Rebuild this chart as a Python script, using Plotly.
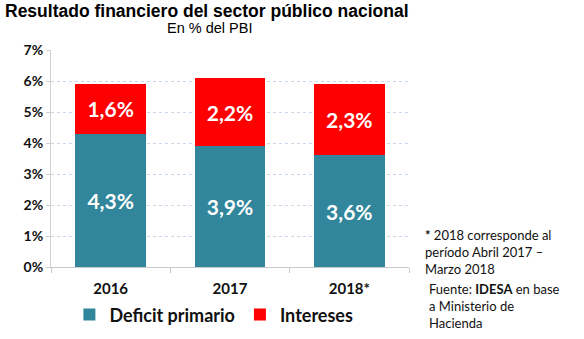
import plotly.graph_objects as go

years = ["2016", "2017", "2018*"]
deficit_primario = [4.3, 3.9, 3.6]
intereses = [1.6, 2.2, 2.3]
y_ticks = [0, 1, 2, 3, 4, 5, 6, 7]
y_tick_labels = ["0%", "1%", "2%", "3%", "4%", "5%", "6%", "7%"]

TEAL = "#31869B"
RED = "#FF0000"
FONT = "Lato, Carlito, Calibri, sans-serif"

fig = go.Figure()
fig.add_trace(go.Bar(
    x=years, y=deficit_primario, name="Deficit primario",
    marker=dict(color=TEAL, line=dict(width=0)),
    texttemplate="%{y:.1f}%", textposition="inside", insidetextanchor="middle",
    textfont=dict(color="white", size=21, family=FONT, weight="bold"),
))
fig.add_trace(go.Bar(
    x=years, y=intereses, name="Intereses",
    marker=dict(color=RED, line=dict(width=0)),
    texttemplate="%{y:.1f}%", textposition="inside", insidetextanchor="middle",
    textfont=dict(color="white", size=21, family=FONT, weight="bold"),
))

fig.update_layout(
    barmode="stack", bargap=0.41,
    separators=",.",
    width=584, height=339,
    margin=dict(l=51, r=175, t=50, b=72, autoexpand=False),
    paper_bgcolor="white", plot_bgcolor="white",
    showlegend=True,
    legend=dict(orientation="h", x=0.455, xanchor="center", y=-0.135, yanchor="top",
                font=dict(size=18, family=FONT, color="#111", weight="bold"),
                itemwidth=30, traceorder="normal", itemsizing="constant"),
    uniformtext=dict(mode="show", minsize=10),
)
fig.update_xaxes(
    type="category", showline=True, linecolor="#c8c8c8", linewidth=1,
    ticks="outside", tickson="boundaries", ticklen=5, tickcolor="#c8c8c8",
    tickfont=dict(size=15, family=FONT, color="#111", weight="bold"),
    ticklabelstandoff=8,
    showgrid=False,
)
fig.update_yaxes(
    range=[0, 7], tickvals=y_ticks, ticktext=y_tick_labels,
    showline=True, linecolor="#d0d0d0", linewidth=1,
    ticks="outside", ticklen=4, tickcolor="#d0d0d0",
    showgrid=True, gridcolor="#c9d7ea", griddash="dot", gridwidth=1,
    tickfont=dict(size=14, family=FONT, color="#111", weight="bold"),
    zeroline=False,
)

fig.add_annotation(text="<b>Resultado financiero del sector público nacional</b>",
                   xref="paper", yref="paper", x=-0.135, y=1.0, yshift=51, xanchor="left", yanchor="top",
                   showarrow=False, font=dict(size=17.5, family="Liberation Sans, Arial", color="#000"))
fig.add_annotation(text="En % del PBI", xref="paper", yref="paper", x=0.444, y=1.0, yshift=32,
                   xanchor="center", yanchor="top", showarrow=False,
                   font=dict(size=14.5, family="Liberation Sans, Arial", color="#000"))
fig.add_annotation(text="<b>*</b> 2018 corresponde al<br>período Abril 2017 –<br>Marzo 2018",
                   xref="paper", yref="paper", x=1.04, y=0.195, xanchor="left", yanchor="top",
                   showarrow=False, align="left",
                   font=dict(size=13, family=FONT, color="#111"))
fig.add_annotation(text="Fuente: <b>IDESA</b> en base<br>a Ministerio de<br>Hacienda",
                   xref="paper", yref="paper", x=1.05, y=0.0, yshift=-12, xanchor="left", yanchor="top",
                   showarrow=False, align="left",
                   font=dict(size=13, family=FONT, color="#111"))

fig.write_html("out.html")
